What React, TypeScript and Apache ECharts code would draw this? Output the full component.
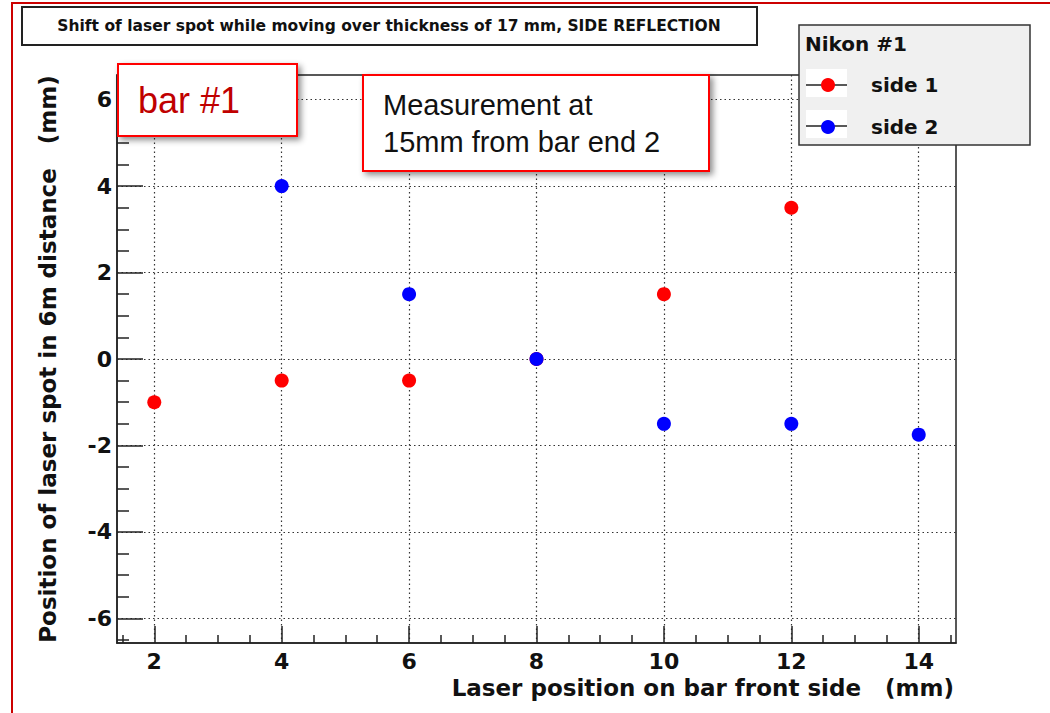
import React, { useEffect, useRef } from "react";
import * as echarts from "echarts";

const titleText = "Shift of laser spot while moving over thickness of 17 mm, SIDE REFLECTION";
const xAxisTitle = "Laser position on bar front side   (mm)";
const yAxisTitle = "Position of laser spot in 6m distance   (mm)";
const legendTitle = "Nikon #1";
const seriesNames = ["side 1", "side 2"];

const side1X = [2, 4, 6, 8, 10, 12];
const side1Y = [-1, -0.5, -0.5, 0, 1.5, 3.5];
const side2X = [4, 6, 8, 10, 12, 14];
const side2Y = [4, 1.5, 0, -1.5, -1.5, -1.75];

const xMajorTicks = [2, 4, 6, 8, 10, 12, 14];
const xMinorTicks = [1.5, 2.5, 3, 3.5, 4.5, 5, 5.5, 6.5, 7, 7.5, 8.5, 9, 9.5, 10.5, 11, 11.5, 12.5, 13, 13.5, 14.5];
const yMajorTicks = [-6, -4, -2, 0, 2, 4, 6];
const yMinorTicks = [-6.5, -5.5, -5, -4.5, -3.5, -3, -2.5, -1.5, -1, -0.5, 0.5, 1, 1.5, 2.5, 3, 3.5, 4.5, 5, 5.5, 6.5];

const xRange = [1.415, 14.585];
const yRange = [-6.57, 6.57];

const noteBar = "bar #1";
const noteMeasure = ["Measurement at", "15mm from bar end 2"];

const rootFont = "DejaVu Sans";

export default function App() {
  const ref = useRef<HTMLDivElement>(null);
  useEffect(() => {
    if (!ref.current) return;
    const chart = echarts.init(ref.current, null, { renderer: "svg" });
    const axisCol = "#222";
    const pts = (xs: number[], ys: number[]) => xs.map((x, i) => [x, ys[i]]);
    const option: any = {
      animation: false,
      backgroundColor: "#ffffff",
      grid: {
        left: 117,
        top: 75,
        width: 839,
        height: 568,
        show: true,
        borderColor: axisCol,
        borderWidth: 1.5,
        backgroundColor: "transparent",
      },
      xAxis: [
        {
          type: "value",
          min: xRange[0],
          max: xRange[1],
          position: "bottom",
          name: xAxisTitle,
          nameLocation: "end",
          nameGap: -2,
          nameTextStyle: {
            fontFamily: rootFont,
            fontWeight: "bold",
            fontSize: 23,
            color: "#111",
            align: "right",
            verticalAlign: "top",
            padding: [33, 0, 0, 0],
          },
          axisLine: { show: true, onZero: false, lineStyle: { color: axisCol, width: 1.5 } },
          axisTick: { show: true, inside: true, length: 17, customValues: xMajorTicks, lineStyle: { color: axisCol, width: 1.5 } },
          axisLabel: {
            show: true,
            customValues: xMajorTicks,
            margin: 7,
            fontFamily: rootFont,
            fontWeight: "bold",
            fontSize: 22,
            color: "#111",
          },
          splitLine: { show: true, lineStyle: { color: "#333", width: 1.2, type: [1.5, 3] } },
        },
        {
          type: "value",
          min: xRange[0],
          max: xRange[1],
          position: "bottom",
          axisLine: { show: false, onZero: false },
          axisTick: { show: true, inside: true, length: 8, customValues: xMinorTicks, lineStyle: { color: axisCol, width: 1.5 } },
          axisLabel: { show: false, customValues: xMinorTicks },
          splitLine: { show: false },
        },
      ],
      yAxis: [
        {
          type: "value",
          min: yRange[0],
          max: yRange[1],
          position: "left",
          name: yAxisTitle,
          nameLocation: "middle",
          nameGap: 58,
          nameTextStyle: {
            fontFamily: rootFont,
            fontWeight: "bold",
            fontSize: 23,
            color: "#111",
          },
          axisLine: { show: true, onZero: false, lineStyle: { color: axisCol, width: 1.5 } },
          axisTick: { show: true, inside: true, length: 26, customValues: yMajorTicks, lineStyle: { color: axisCol, width: 1.5 } },
          axisLabel: {
            show: true,
            customValues: yMajorTicks,
            margin: 5,
            fontFamily: rootFont,
            fontWeight: "bold",
            fontSize: 22,
            color: "#111",
          },
          splitLine: { show: true, lineStyle: { color: "#333", width: 1.2, type: [1.5, 3] } },
        },
        {
          type: "value",
          min: yRange[0],
          max: yRange[1],
          position: "left",
          axisLine: { show: false, onZero: false },
          axisTick: { show: true, inside: true, length: 12, customValues: yMinorTicks, lineStyle: { color: axisCol, width: 1.5 } },
          axisLabel: { show: false, customValues: yMinorTicks },
          splitLine: { show: false },
        },
      ],
      legend: {
        show: true,
        orient: "vertical",
        left: 821,
        top: 75,
        padding: 0,
        itemWidth: 14,
        itemHeight: 14,
        itemGap: 22,
        icon: "circle",
        z: 20,
        data: seriesNames,
        textStyle: {
          fontFamily: rootFont,
          fontWeight: "bold",
          fontSize: 20,
          lineHeight: 14,
          color: "#111",
          padding: [0, 0, 0, 31],
        },
      },
      series: [
        {
          name: seriesNames[0],
          type: "scatter",
          symbol: "circle",
          symbolSize: 14,
          itemStyle: { color: "#ff0000", opacity: 1 },
          data: pts(side1X, side1Y),
          z: 3,
        },
        {
          name: seriesNames[1],
          type: "scatter",
          symbol: "circle",
          symbolSize: 14,
          itemStyle: { color: "#0000ff", opacity: 1 },
          data: pts(side2X, side2Y),
          z: 4,
        },
      ],
      graphic: [
        {
          type: "rect",
          z: 30,
          shape: { x: 12, y: 3, width: 1100, height: 800 },
          style: { fill: "none", stroke: "#cc0000", lineWidth: 2 },
          silent: true,
        },
        {
          type: "rect",
          z: 10,
          shape: { x: 22, y: 7, width: 735, height: 38 },
          style: { fill: "#ffffff", stroke: "#222", lineWidth: 2 },
        },
        {
          type: "text",
          z: 11,
          x: 389,
          y: 26,
          style: {
            text: titleText,
            fontFamily: rootFont,
            fontWeight: "bold",
            fontSize: 15.5,
            fill: "#111",
            align: "center",
            verticalAlign: "middle",
          },
        },
        {
          type: "rect",
          z: 10,
          shape: { x: 799, y: 25, width: 231, height: 120 },
          style: { fill: "#f0f0f0", stroke: "#333", lineWidth: 1.5 },
        },
        {
          type: "text",
          z: 11,
          x: 805,
          y: 44,
          style: {
            text: legendTitle,
            fontFamily: rootFont,
            fontWeight: "bold",
            fontSize: 20,
            fill: "#111",
            align: "left",
            verticalAlign: "middle",
          },
        },
        { type: "rect", z: 11, shape: { x: 806, y: 69, width: 41, height: 28 }, style: { fill: "#ffffff" } },
        { type: "rect", z: 11, shape: { x: 806, y: 110, width: 41, height: 28 }, style: { fill: "#ffffff" } },
        { type: "line", z: 12, shape: { x1: 806, y1: 85, x2: 847, y2: 85 }, style: { stroke: "#222", lineWidth: 1.5 } },
        { type: "line", z: 12, shape: { x1: 806, y1: 126, x2: 847, y2: 126 }, style: { stroke: "#222", lineWidth: 1.5 } },
        {
          type: "rect",
          z: 15,
          shape: { x: 118, y: 64, width: 179, height: 72 },
          style: {
            fill: "#ffffff",
            stroke: "#ff0000",
            lineWidth: 2,
            shadowBlur: 6,
            shadowOffsetX: 3,
            shadowOffsetY: 3,
            shadowColor: "rgba(0,0,0,0.45)",
          },
        },
        {
          type: "text",
          z: 16,
          x: 138,
          y: 100,
          style: {
            text: noteBar,
            fontFamily: "Liberation Sans",
            fontSize: 36,
            fill: "#c00000",
            align: "left",
            verticalAlign: "middle",
          },
        },
        {
          type: "rect",
          z: 15,
          shape: { x: 363, y: 75, width: 346, height: 96 },
          style: {
            fill: "#ffffff",
            stroke: "#ff0000",
            lineWidth: 2,
            shadowBlur: 6,
            shadowOffsetX: 3,
            shadowOffsetY: 3,
            shadowColor: "rgba(0,0,0,0.45)",
          },
        },
        {
          type: "text",
          z: 16,
          x: 383,
          y: 105,
          style: {
            text: noteMeasure[0],
            fontFamily: "Liberation Sans",
            fontSize: 29,
            fill: "#111",
            align: "left",
            verticalAlign: "middle",
          },
        },
        {
          type: "text",
          z: 16,
          x: 383,
          y: 142,
          style: {
            text: noteMeasure[1],
            fontFamily: "Liberation Sans",
            fontSize: 29,
            fill: "#111",
            align: "left",
            verticalAlign: "middle",
          },
        },
      ],
    };
    chart.setOption(option);
    return () => chart.dispose();
  }, []);
  return (
    <div
      ref={ref}
      style={{ position: "absolute", left: 0, top: 0, width: 1050, height: 713, background: "#fff" }}
    />
  );
}
